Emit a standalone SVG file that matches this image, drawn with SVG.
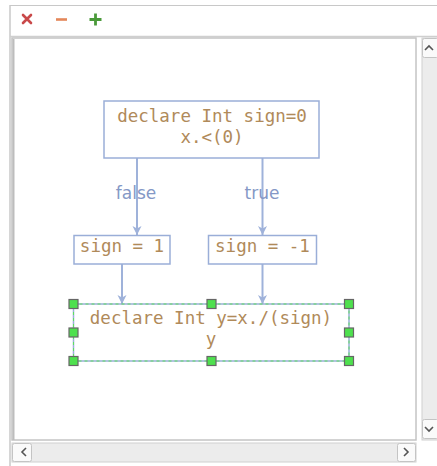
<svg xmlns="http://www.w3.org/2000/svg" width="437" height="466" viewBox="0 0 437 466">
  <style>
    .code { font-family: "DejaVu Sans Mono", "Liberation Mono", monospace; font-size: 17.5px; fill: #b08a5a; text-anchor: middle; }
    .lbl { font-family: "DejaVu Sans", "Liberation Sans", sans-serif; font-size: 17px; fill: #8498c6; text-anchor: middle; }
    .box { fill: #ffffff; stroke: #9aaed8; stroke-width: 1.5; }
    .edge { fill: none; stroke: #9fb2da; stroke-width: 2; }
    .handle { fill: #4ee04e; stroke: #666666; stroke-width: 1.2; }
    .sbtn { fill: #fafafa; stroke: #c4c4c4; stroke-width: 1; }
    .chev { fill: none; stroke: #555555; stroke-width: 1.6; }
  </style>
  <defs>
    <marker id="arrow" markerWidth="12" markerHeight="12" refX="10" refY="6" orient="auto" markerUnits="userSpaceOnUse">
      <path d="M1,1.5 L10,6 L1,10.5 L3.5,6 Z" fill="#9fb2da"/>
    </marker>
  </defs>

  <!-- window frame -->
  <rect x="0" y="0" width="437" height="466" fill="#ffffff"/>
  <line x1="10" y1="5.5" x2="437" y2="5.5" stroke="#c8c8c8" stroke-width="1"/>
  <line x1="10" y1="5" x2="10" y2="466" stroke="#c8c8c8" stroke-width="1.5"/>
  <line x1="10" y1="36.5" x2="437" y2="36.5" stroke="#cfcfcf" stroke-width="1.5"/>

  <!-- toolbar -->
  <g id="toolbar">
    <path d="M23,15 L31,23 M31,15 L23,23" stroke="#c9494a" stroke-width="2.6" stroke-linecap="round"/>
    <line x1="56" y1="19.5" x2="67" y2="19.5" stroke="#e4875a" stroke-width="2.6"/>
    <path d="M95.5,13.5 V25.5 M89.5,19.5 H101.5" stroke="#4a9a3a" stroke-width="2.8"/>
  </g>

  <!-- canvas -->
  <rect x="12" y="38" width="404" height="402" fill="#ffffff" stroke="#c4c4c4" stroke-width="1.5"/>
  <line x1="13.5" y1="39" x2="13.5" y2="440" stroke="#bdbdbd" stroke-width="2"/>

  <!-- vertical scrollbar -->
  <g id="vscroll">
    <rect x="422" y="38" width="16" height="402" fill="#ececec" stroke="#d0d0d0" stroke-width="1"/>
    <rect x="422.5" y="38.5" width="16" height="19" rx="2" class="sbtn"/>
    <path d="M425,50 L429,46 L433,50" class="chev"/>
    <rect x="422.5" y="419.5" width="16" height="19" rx="2" class="sbtn"/>
    <path d="M425,427 L429,431 L433,427" class="chev"/>
  </g>

  <!-- horizontal scrollbar -->
  <g id="hscroll">
    <rect x="12" y="443" width="404" height="19" fill="#ececec" stroke="#d0d0d0" stroke-width="1"/>
    <rect x="12.5" y="443.5" width="19" height="18" rx="2" class="sbtn"/>
    <path d="M26,448 L22,452 L26,456" class="chev"/>
    <rect x="397.5" y="443.5" width="18" height="18" rx="2" class="sbtn"/>
    <path d="M404,448 L408,452 L404,456" class="chev"/>
  </g>

  <!-- connectors -->
  <g id="connectors">
    <line x1="137" y1="158" x2="137" y2="235" class="edge" marker-end="url(#arrow)"/>
    <line x1="262.5" y1="158" x2="262.5" y2="235" class="edge" marker-end="url(#arrow)"/>
    <line x1="122" y1="264" x2="122" y2="304" class="edge" marker-end="url(#arrow)"/>
    <line x1="262.5" y1="264" x2="262.5" y2="304" class="edge" marker-end="url(#arrow)"/>
    <text x="136" y="199" class="lbl">false</text>
    <text x="262" y="199" class="lbl">true</text>
  </g>

  <!-- nodes -->
  <g id="node-declare-sign">
    <rect x="104" y="101" width="215" height="57" class="box"/>
    <text x="212" y="121.5" class="code">declare Int sign=0</text>
    <text x="212" y="142.5" class="code">x.&lt;(0)</text>
  </g>

  <g id="node-sign-pos">
    <rect x="74" y="235.5" width="96" height="28.5" class="box"/>
    <text x="122" y="252" class="code">sign = 1</text>
  </g>

  <g id="node-sign-neg">
    <rect x="208.5" y="235.5" width="108" height="28.5" class="box"/>
    <text x="262.5" y="252" class="code">sign = -1</text>
  </g>

  <g id="node-declare-y">
    <rect x="73.5" y="304" width="275.5" height="57" class="box"/>
    <rect x="73.5" y="304" width="275.5" height="57" fill="none" stroke="#5ee05e" stroke-width="1" stroke-dasharray="3,3"/>
    <text x="211" y="324" class="code">declare Int y=x./(sign)</text>
    <text x="211" y="345" class="code">y</text>
    <g id="selection-handles">
      <rect x="69" y="299.5" width="9" height="9" class="handle"/>
      <rect x="207" y="299.5" width="9" height="9" class="handle"/>
      <rect x="344.5" y="299.5" width="9" height="9" class="handle"/>
      <rect x="69" y="328" width="9" height="9" class="handle"/>
      <rect x="344.5" y="328" width="9" height="9" class="handle"/>
      <rect x="69" y="356.5" width="9" height="9" class="handle"/>
      <rect x="207" y="356.5" width="9" height="9" class="handle"/>
      <rect x="344.5" y="356.5" width="9" height="9" class="handle"/>
    </g>
  </g>
</svg>
